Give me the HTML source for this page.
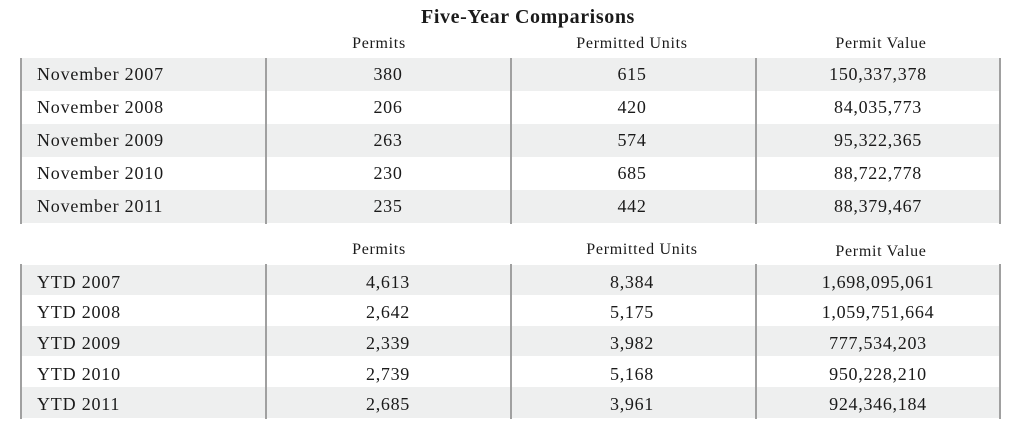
<!DOCTYPE html>
<html><head><style>
body{margin:0;width:1024px;height:432px;background:#fff;font-family:"Liberation Serif",serif;color:#1a1a1a;position:relative;overflow:hidden}
.t{position:absolute;white-space:nowrap}
.title{left:0;width:1056px;text-align:center;top:6px;font-size:20px;font-weight:bold;letter-spacing:0.6px}
.h{font-size:16px;text-align:center;width:200px;letter-spacing:0.7px}
.row{position:absolute;left:21px;width:979px}
.g{background:#eeefef}
.v{position:absolute;width:2px;background:#a0a0a0}
.c{position:absolute;font-size:18px;text-align:center;width:200px;letter-spacing:0.7px}
.l{position:absolute;font-size:18px;left:37px;letter-spacing:0.8px}
</style></head><body>
<div class="t title">Five-Year Comparisons</div>
<div class="t h" style="left:279px;top:35px">Permits</div>
<div class="t h" style="left:532px;top:35px">Permitted Units</div>
<div class="t h" style="left:781px;top:35px">Permit Value</div>

<div class="row g" style="top:58px;height:33px"></div>
<div class="row g" style="top:124px;height:33px"></div>
<div class="row g" style="top:190px;height:33px"></div>
<div class="v" style="left:20px;top:58px;height:166px"></div>
<div class="v" style="left:265px;top:58px;height:166px"></div>
<div class="v" style="left:510px;top:58px;height:166px"></div>
<div class="v" style="left:755px;top:58px;height:166px"></div>
<div class="v" style="left:999px;top:58px;height:166px"></div>

<div class="t l" style="top:64px">November 2007</div><div class="c" style="left:288px;top:64px">380</div><div class="c" style="left:532px;top:64px">615</div><div class="c" style="left:778px;top:64px">150,337,378</div>
<div class="t l" style="top:97px">November 2008</div><div class="c" style="left:288px;top:97px">206</div><div class="c" style="left:532px;top:97px">420</div><div class="c" style="left:778px;top:97px">84,035,773</div>
<div class="t l" style="top:130px">November 2009</div><div class="c" style="left:288px;top:130px">263</div><div class="c" style="left:532px;top:130px">574</div><div class="c" style="left:778px;top:130px">95,322,365</div>
<div class="t l" style="top:163px">November 2010</div><div class="c" style="left:288px;top:163px">230</div><div class="c" style="left:532px;top:163px">685</div><div class="c" style="left:778px;top:163px">88,722,778</div>
<div class="t l" style="top:196px">November 2011</div><div class="c" style="left:288px;top:196px">235</div><div class="c" style="left:532px;top:196px">442</div><div class="c" style="left:778px;top:196px">88,379,467</div>

<div class="t h" style="left:279px;top:241px">Permits</div>
<div class="t h" style="left:542px;top:241px">Permitted Units</div>
<div class="t h" style="left:781px;top:243px">Permit Value</div>

<div class="row g" style="top:265px;height:30px"></div>
<div class="row g" style="top:326px;height:30px"></div>
<div class="row g" style="top:387px;height:31px"></div>
<div class="v" style="left:20px;top:264px;height:155px"></div>
<div class="v" style="left:265px;top:264px;height:155px"></div>
<div class="v" style="left:510px;top:264px;height:155px"></div>
<div class="v" style="left:755px;top:264px;height:155px"></div>
<div class="v" style="left:999px;top:264px;height:155px"></div>

<div class="t l" style="top:272px">YTD 2007</div><div class="c" style="left:288px;top:272px">4,613</div><div class="c" style="left:532px;top:272px">8,384</div><div class="c" style="left:778px;top:272px">1,698,095,061</div>
<div class="t l" style="top:302px">YTD 2008</div><div class="c" style="left:288px;top:302px">2,642</div><div class="c" style="left:532px;top:302px">5,175</div><div class="c" style="left:778px;top:302px">1,059,751,664</div>
<div class="t l" style="top:333px">YTD 2009</div><div class="c" style="left:288px;top:333px">2,339</div><div class="c" style="left:532px;top:333px">3,982</div><div class="c" style="left:778px;top:333px">777,534,203</div>
<div class="t l" style="top:364px">YTD 2010</div><div class="c" style="left:288px;top:364px">2,739</div><div class="c" style="left:532px;top:364px">5,168</div><div class="c" style="left:778px;top:364px">950,228,210</div>
<div class="t l" style="top:394px">YTD 2011</div><div class="c" style="left:288px;top:394px">2,685</div><div class="c" style="left:532px;top:394px">3,961</div><div class="c" style="left:778px;top:394px">924,346,184</div>
</body></html>
